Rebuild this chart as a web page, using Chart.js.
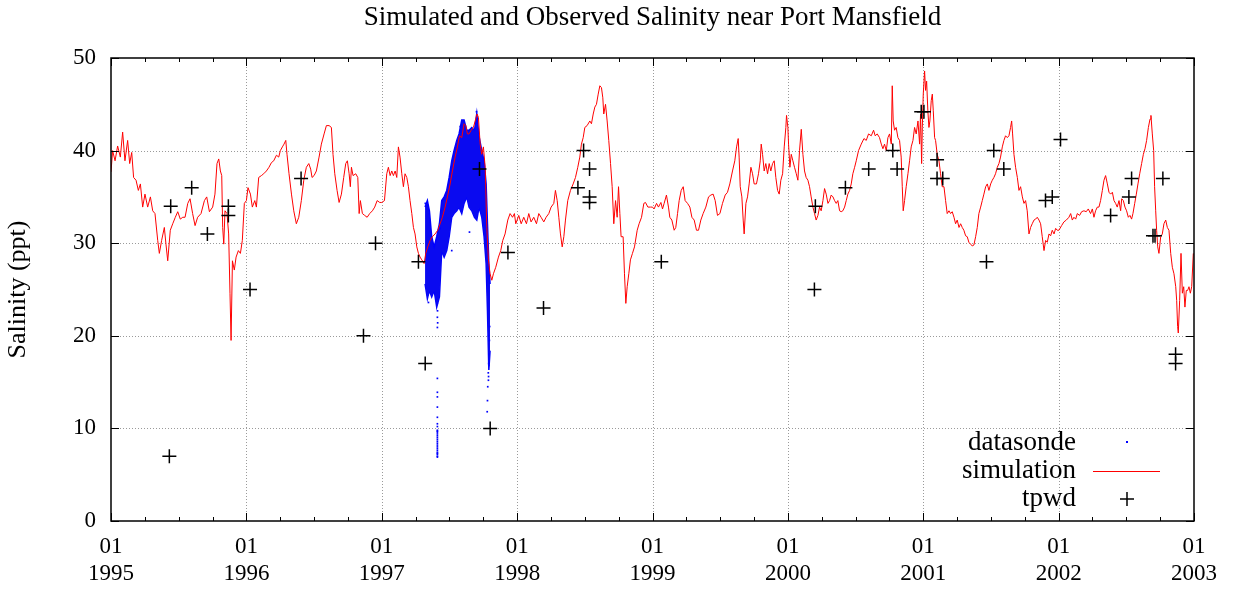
<!DOCTYPE html>
<html>
<head>
<meta charset="utf-8">
<script src="https://cdn.jsdelivr.net/npm/chart.js@4.4.1/dist/chart.umd.min.js"></script>
<style>
html,body{margin:0;padding:0;background:#fff;}
canvas{display:block;}
</style>
</head>
<body>
<canvas id="c" width="1233" height="594"></canvas>
<script>
// ---------- DATA ----------
const chartTitle = 'Simulated and Observed Salinity near Port Mansfield';
const yAxisTitle = 'Salinity (ppt)';
const xTickValues = [1995, 1996, 1997, 1998, 1999, 2000, 2001, 2002, 2003];
const xTickMonth = ['01', '01', '01', '01', '01', '01', '01', '01', '01'];
const xTickYear = ['1995', '1996', '1997', '1998', '1999', '2000', '2001', '2002', '2003'];
const yTickValues = [0, 10, 20, 30, 40, 50];
const yTickLabels = ['0', '10', '20', '30', '40', '50'];
const legendLabels = ['datasonde', 'simulation', 'tpwd'];

// simulation (decimal year / salinity)
const sim1995T = [1995.000,1995.012,1995.030,1995.049,1995.069,1995.086,1995.103,1995.123,1995.138,1995.153,1995.167,1995.185,1995.202,1995.217,1995.234,1995.251,1995.271,1995.291,1995.308,1995.325,1995.345,1995.357,1995.374,1995.394,1995.406,1995.419,1995.438,1995.456,1995.475,1995.493,1995.512,1995.530,1995.547,1995.567,1995.584,1995.603,1995.621,1995.640,1995.665,1995.690,1995.707,1995.727,1995.751,1995.768,1995.783,1995.796,1995.808,1995.818,1995.825,1995.833,1995.842,1995.857,1995.869,1995.879,1995.887,1995.897,1995.911,1995.924,1995.941,1995.956,1995.970,1995.985];
const sim1995V = [37.7,40.0,38.9,40.5,39.3,42.0,38.9,41.1,38.6,39.8,37.1,36.8,35.7,36.4,33.9,35.3,33.9,35.0,33.5,33.2,30.3,28.9,30.3,31.7,29.9,28.1,31.4,32.1,32.8,33.4,32.6,32.8,32.8,34.3,34.8,33.2,31.9,32.8,33.2,34.6,35.0,33.4,33.9,35.3,38.6,39.1,37.8,37.3,31.7,29.9,33.5,33.2,31.0,24.6,19.5,28.1,27.1,28.5,29.2,28.9,30.3,34.3];
const sim1996T = [1996.000,1996.012,1996.030,1996.044,1996.062,1996.074,1996.091,1996.111,1996.128,1996.148,1996.167,1996.185,1996.202,1996.222,1996.239,1996.251,1996.266,1996.278,1996.291,1996.300,1996.315,1996.333,1996.350,1996.369,1996.387,1996.406,1996.424,1996.443,1996.461,1996.475,1996.485,1996.500,1996.517,1996.537,1996.554,1996.574,1996.591,1996.611,1996.628,1996.640,1996.653,1996.670,1996.685,1996.702,1996.719,1996.734,1996.746,1996.759,1996.768,1996.776,1996.788,1996.808,1996.823,1996.833,1996.842,1996.857,1996.874,1996.892,1996.911,1996.931,1996.948,1996.966,1996.985];
const sim1996V = [34.6,36.0,35.3,33.9,34.6,33.9,37.1,37.3,37.5,37.8,38.2,38.7,38.9,39.5,39.3,40.0,40.4,40.7,41.1,39.6,37.5,35.3,33.5,32.1,32.8,34.6,36.8,38.2,38.6,38.0,37.1,37.3,37.8,39.3,40.7,41.8,42.7,42.7,42.5,39.6,37.5,35.7,34.4,35.3,37.1,38.6,38.9,37.5,36.1,38.2,37.3,37.5,37.1,33.2,34.6,33.2,33.0,32.8,33.2,33.5,33.9,34.6,34.4];
const sim1997T = [1997.000,1997.020,1997.037,1997.049,1997.062,1997.074,1997.086,1997.099,1997.111,1997.123,1997.135,1997.148,1997.160,1997.172,1997.185,1997.197,1997.209,1997.222,1997.234,1997.246,1997.259,1997.271,1997.283,1997.296,1997.313,1997.325,1997.340,1997.357,1997.374,1997.394,1997.414,1997.431,1997.448,1997.468,1997.485,1997.505,1997.522,1997.542,1997.559,1997.574,1997.591,1997.608,1997.621,1997.633,1997.645,1997.660,1997.677,1997.690,1997.704,1997.714,1997.727,1997.739,1997.751,1997.764,1997.776,1997.788,1997.800,1997.813,1997.825,1997.842,1997.862,1997.879,1997.894,1997.911,1997.931,1997.948,1997.966,1997.980,1997.990];
const sim1997V = [34.4,34.6,37.5,38.2,37.3,37.8,37.3,37.8,37.1,40.4,39.3,37.5,36.1,37.5,37.1,36.1,34.6,33.2,31.7,31.0,29.6,28.9,28.5,28.2,27.8,28.9,29.6,30.3,30.7,31.0,31.4,32.1,32.8,33.9,35.0,36.4,37.8,39.3,40.4,41.6,41.4,42.9,42.7,41.8,41.8,42.2,42.5,43.2,43.95,43.6,40.7,39.6,40.4,38.2,31.7,28.2,26.7,26.0,26.7,27.4,28.5,29.2,30.3,31.0,32.5,33.2,32.8,33.2,32.1];
const sim1998T = [1998.000,1998.012,1998.030,1998.049,1998.069,1998.086,1998.103,1998.123,1998.143,1998.160,1998.177,1998.197,1998.214,1998.234,1998.251,1998.271,1998.283,1998.296,1998.308,1998.320,1998.333,1998.345,1998.357,1998.374,1998.394,1998.414,1998.431,1998.448,1998.463,1998.475,1998.488,1998.500,1998.517,1998.537,1998.549,1998.562,1998.574,1998.586,1998.599,1998.611,1998.623,1998.633,1998.640,1998.653,1998.665,1998.677,1998.690,1998.702,1998.714,1998.727,1998.739,1998.749,1998.759,1998.768,1998.783,1998.793,1998.803,1998.813,1998.825,1998.837,1998.852,1998.867,1998.887,1998.901,1998.919,1998.936,1998.948,1998.966,1998.985];
const sim1998V = [32.5,33.0,32.1,32.8,32.1,33.2,32.3,32.8,32.1,33.2,32.8,32.3,32.8,33.2,33.9,34.3,35.7,34.6,32.8,31.0,29.6,30.7,32.5,34.6,35.7,36.4,37.1,38.2,39.3,40.7,41.4,42.5,42.7,43.2,42.9,43.95,44.7,45.0,46.1,47.0,46.8,45.7,43.95,45.0,43.2,41.1,38.6,36.1,32.1,34.6,32.8,36.1,33.2,30.7,30.7,26.7,23.5,25.3,26.7,28.2,28.9,29.6,31.4,32.1,32.8,34.3,34.4,33.9,33.9];
const sim1999T = [1999.000,1999.012,1999.030,1999.044,1999.062,1999.074,1999.086,1999.103,1999.118,1999.128,1999.143,1999.160,1999.172,1999.185,1999.197,1999.212,1999.227,1999.241,1999.259,1999.276,1999.291,1999.308,1999.325,1999.340,1999.357,1999.374,1999.394,1999.414,1999.431,1999.448,1999.463,1999.480,1999.498,1999.517,1999.537,1999.554,1999.571,1999.591,1999.608,1999.621,1999.633,1999.640,1999.648,1999.660,1999.670,1999.677,1999.690,1999.702,1999.714,1999.727,1999.739,1999.751,1999.768,1999.783,1999.796,1999.803,1999.813,1999.825,1999.837,1999.850,1999.862,1999.874,1999.887,1999.899,1999.911,1999.924,1999.936,1999.948,1999.961,1999.973,1999.985,1999.990];
const sim1999V = [33.9,33.7,34.3,33.9,34.4,33.7,34.3,35.2,33.9,32.8,32.5,31.4,31.7,33.2,34.6,35.7,36.1,34.6,34.3,33.9,32.8,32.5,31.4,31.4,32.5,33.2,33.9,35.0,35.2,35.3,34.6,33.0,33.2,34.3,35.2,35.5,36.4,37.8,38.9,40.4,41.3,39.3,36.1,35.0,32.5,31.0,34.3,35.0,36.4,38.2,37.5,36.4,36.4,37.5,38.9,40.7,39.6,37.8,38.6,37.5,38.6,37.8,38.6,38.9,37.1,35.7,35.3,36.8,37.5,40.4,42.5,43.8];
const sim2000T = [2000.000,2000.005,2000.015,2000.025,2000.037,2000.049,2000.062,2000.074,2000.086,2000.099,2000.111,2000.123,2000.135,2000.148,2000.160,2000.172,2000.185,2000.197,2000.209,2000.222,2000.234,2000.246,2000.259,2000.271,2000.283,2000.296,2000.308,2000.320,2000.333,2000.345,2000.357,2000.369,2000.382,2000.394,2000.406,2000.419,2000.431,2000.443,2000.456,2000.468,2000.480,2000.493,2000.505,2000.522,2000.542,2000.562,2000.579,2000.596,2000.616,2000.633,2000.645,2000.660,2000.677,2000.690,2000.702,2000.714,2000.727,2000.739,2000.751,2000.764,2000.771,2000.778,2000.788,2000.800,2000.813,2000.825,2000.837,2000.845,2000.852,2000.862,2000.874,2000.887,2000.899,2000.911,2000.924,2000.936,2000.948,2000.961,2000.973,2000.980,2000.988,2000.993];
const sim2000V = [42.5,40.7,38.2,39.6,38.9,38.2,37.5,36.8,40.0,42.3,39.6,37.8,37.1,36.8,36.1,35.0,33.9,33.2,32.5,33.0,33.9,33.5,34.6,35.9,35.3,34.3,34.6,35.2,35.0,34.6,34.3,34.6,33.5,33.4,33.5,33.9,34.6,35.3,35.7,36.4,37.5,38.2,38.9,40.0,40.7,41.3,41.1,41.8,41.6,42.2,41.6,41.8,41.4,40.7,40.2,40.7,40.0,41.4,41.8,40.7,47.0,43.2,42.2,42.5,41.4,41.1,39.3,36.1,33.5,34.6,36.1,37.5,38.9,40.4,41.1,42.5,41.8,43.2,40.7,43.95,38.6,42.5];
const sim2001T = [2001.000,2001.010,2001.017,2001.025,2001.034,2001.042,2001.049,2001.059,2001.067,2001.074,2001.084,2001.091,2001.103,2001.116,2001.128,2001.140,2001.153,2001.165,2001.177,2001.190,2001.202,2001.214,2001.227,2001.239,2001.251,2001.264,2001.276,2001.288,2001.300,2001.313,2001.325,2001.337,2001.350,2001.362,2001.374,2001.387,2001.399,2001.411,2001.424,2001.436,2001.448,2001.461,2001.473,2001.485,2001.498,2001.510,2001.522,2001.534,2001.547,2001.559,2001.571,2001.584,2001.596,2001.608,2001.621,2001.633,2001.645,2001.653,2001.660,2001.670,2001.682,2001.695,2001.707,2001.719,2001.732,2001.744,2001.756,2001.768,2001.781,2001.793,2001.805,2001.818,2001.830,2001.842,2001.855,2001.867,2001.879,2001.892,2001.904,2001.916,2001.929,2001.941,2001.953,2001.966,2001.978,2001.990];
const sim2001V = [46.1,48.6,46.5,47.5,44.3,42.5,43.2,45.4,46.1,44.3,41.4,41.1,39.6,38.9,37.5,36.1,36.1,34.6,33.2,33.5,33.2,33.4,32.8,32.1,32.5,31.7,32.1,31.7,31.4,30.8,30.7,30.1,29.9,29.7,29.8,30.7,31.7,33.2,33.9,34.6,35.3,36.1,36.4,35.7,36.4,36.8,37.1,37.5,38.2,38.6,39.3,40.4,41.1,41.6,41.4,41.6,42.5,43.2,41.8,39.6,38.2,37.1,35.7,36.1,35.0,34.3,34.6,33.5,31.0,31.7,32.1,32.5,32.6,32.8,32.5,32.1,30.7,29.2,30.3,30.1,31.0,30.8,31.4,31.0,31.6,31.4];
const sim2002T = [2002.002,2002.022,2002.039,2002.057,2002.076,2002.089,2002.101,2002.113,2002.126,2002.138,2002.155,2002.170,2002.187,2002.204,2002.219,2002.236,2002.249,2002.261,2002.273,2002.286,2002.298,2002.310,2002.323,2002.335,2002.347,2002.360,2002.372,2002.384,2002.397,2002.409,2002.421,2002.433,2002.446,2002.458,2002.466,2002.478,2002.490,2002.502,2002.515,2002.527,2002.539,2002.549,2002.562,2002.574,2002.586,2002.599,2002.613,2002.626,2002.638,2002.650,2002.663,2002.675,2002.682,2002.692,2002.702,2002.709,2002.717,2002.724,2002.732,2002.741,2002.754,2002.766,2002.778,2002.791,2002.803,2002.815,2002.828,2002.840,2002.852,2002.865,2002.872,2002.879,2002.884,2002.894,2002.904,2002.914,2002.924,2002.933,2002.943,2002.953,2002.963,2002.973,2002.983,2002.995];
const sim2002V = [31.4,31.9,32.3,32.5,32.8,33.2,32.5,32.8,32.6,33.2,33.0,33.4,33.5,33.4,33.7,33.2,33.7,32.8,33.5,33.9,33.9,34.6,35.7,36.8,37.3,36.4,35.5,35.3,35.5,34.6,34.3,33.9,34.6,33.5,34.8,34.6,33.9,33.5,32.8,33.0,32.6,33.2,34.3,35.3,36.4,37.5,38.6,39.6,40.2,41.1,42.5,43.4,43.8,41.8,40.0,36.1,33.5,31.4,29.6,28.9,30.7,31.0,32.1,32.5,31.7,31.4,28.9,27.4,26.7,25.3,23.8,21.0,20.3,23.8,28.9,24.6,25.3,23.1,24.9,24.9,25.3,24.6,25.3,28.9];

// datasonde: dense cloud envelope (upper / lower edge) and separate dots
const dsT    = [1997.320,1997.337,1997.352,1997.369,1997.387,1997.406,1997.426,1997.443,1997.461,1997.480,1997.498,1997.517,1997.534,1997.554,1997.571,1997.591,1997.608,1997.628,1997.645,1997.665,1997.685,1997.702,1997.719,1997.739,1997.756,1997.771,1997.781,1997.791,1997.800];
const dsHigh = [33.9,34.6,33.5,30.7,29.6,30.7,32.1,34.6,35.0,35.7,37.1,38.9,40.0,41.1,41.8,43.3,43.3,42.2,42.2,42.5,42.2,44.0,41.5,40.0,38.9,36.4,32.1,27.8,25.6];
const dsLow  = [25.6,24.0,24.9,24.2,24.9,23.1,24.2,29.2,28.5,29.2,30.7,32.8,33.2,33.5,33.9,33.2,34.3,35.0,33.9,33.5,32.8,32.5,33.9,32.8,30.7,27.8,22.7,16.3,18.4];
const dsDotT = [1997.410,1997.412,1997.411,1997.413,1997.411,1997.411,1997.411,1997.411,1997.411,1997.411,1997.411,1997.411,1997.411,1997.411,1997.411,1997.411,1997.411,1997.411,1997.411,1997.411,1997.411,1997.411,1997.411,1997.411,1997.411,1997.411,1997.411,1997.411,1997.411,1997.411,1997.790,1997.792,1997.790,1997.787,1997.789,1997.791,1997.788,1997.783,1997.781,1997.779,1997.795,1997.797,1997.648,1997.517,1997.322,1997.700,1997.580,1997.345,1997.430];
const dsDotV = [23.5,22.7,22.0,21.4,20.9,15.4,13.9,13.4,12.3,11.2,10.5,9.8,9.6,9.4,9.2,9.0,8.8,8.6,8.4,8.2,8.0,7.8,7.6,7.4,7.2,7.0,6.9,10.2,9.7,7.3,20.0,18.0,17.0,16.0,15.6,16.8,15.2,14.5,13.0,11.8,19.5,21.0,31.2,29.2,34.3,44.2,42.6,23.6,31.6];

// tpwd samples
const tpwdT = [1995.431,1995.441,1995.596,1995.712,1995.867,1995.867,1996.027,1996.404,1996.865,1996.954,1997.271,1997.321,1997.722,1997.801,1997.932,1998.195,1998.449,1998.491,1998.535,1998.535,1998.535,1999.065,2000.196,2000.203,2000.425,2000.597,2000.775,2000.807,2000.985,2001.005,2001.102,2001.102,2001.144,2001.467,2001.521,2001.595,2001.903,2001.953,2002.014,2002.384,2002.519,2002.539,2002.697,2002.712,2002.770,2002.864,2002.864];
const tpwdV = [7,34,36,31,34,33,25,37,20,30,28,17,38,10,29,23,36,40,38,35,34.4,28,25,34,36,38,40,38,44.2,44.2,39,37,37,28,40,38,34.6,35,41.2,33,35,37,30.8,30.8,37,18,17];

// ---------- BUILD ----------
function pairs(t, v) {
  const n = Math.min(t.length, v.length), out = [];
  for (let i = 0; i < n; i++) out.push({x: t[i], y: v[i]});
  return out;
}
const simData = [].concat(
  pairs(sim1995T, sim1995V), pairs(sim1996T, sim1996V), pairs(sim1997T, sim1997V),
  pairs(sim1998T, sim1998V), pairs(sim1999T, sim1999V), pairs(sim2000T, sim2000V),
  pairs(sim2001T, sim2001V), pairs(sim2002T, sim2002V));

const FONT = "'Liberation Serif', 'Times New Roman', serif";
const TICK_SIZE = 23;
const TEXT_SIZE = 27;

const framePlugin = {
  id: 'gnuFrame',
  beforeDatasetsDraw(chart) {
    const {ctx, chartArea: a, scales: {x, y}} = chart;
    ctx.save();
    ctx.strokeStyle = '#9a9a9a';
    ctx.lineWidth = 1;
    ctx.setLineDash([1, 2]);
    yTickValues.forEach(v => {
      if (v === yTickValues[0] || v === yTickValues[yTickValues.length - 1]) return;
      const py = Math.round(y.getPixelForValue(v)) + 0.5;
      ctx.beginPath(); ctx.moveTo(a.left, py); ctx.lineTo(a.right, py); ctx.stroke();
    });
    xTickValues.forEach(v => {
      if (v === xTickValues[0] || v === xTickValues[xTickValues.length - 1]) return;
      const px = Math.round(x.getPixelForValue(v)) + 0.5;
      ctx.beginPath(); ctx.moveTo(px, a.top); ctx.lineTo(px, a.bottom); ctx.stroke();
    });
    ctx.restore();
  },
  afterDatasetsDraw(chart) {
    const {ctx, chartArea: a, scales: {x, y}} = chart;
    ctx.save();
    ctx.setLineDash([]);
    ctx.strokeStyle = '#000';
    ctx.lineWidth = 1;
    // ticks (inward, mirrored)
    ctx.beginPath();
    yTickValues.forEach(v => {
      const py = Math.round(y.getPixelForValue(v)) + 0.5;
      ctx.moveTo(a.left, py); ctx.lineTo(a.left + 8, py);
      ctx.moveTo(a.right, py); ctx.lineTo(a.right - 8, py);
    });
    for (let i = 0; i < xTickValues.length; i++) {
      const v = xTickValues[i];
      const px = Math.round(x.getPixelForValue(v)) + 0.5;
      ctx.moveTo(px, a.bottom); ctx.lineTo(px, a.bottom - 8);
      ctx.moveTo(px, a.top); ctx.lineTo(px, a.top + 8);
      if (i < xTickValues.length - 1) {
        for (let q = 1; q < 4; q++) {
          const mx = Math.round(x.getPixelForValue(v + q * 0.25)) + 0.5;
          ctx.moveTo(mx, a.bottom); ctx.lineTo(mx, a.bottom - 4);
          ctx.moveTo(mx, a.top); ctx.lineTo(mx, a.top + 4);
        }
      }
    }
    ctx.stroke();
    // border
    ctx.lineWidth = 1.5;
    ctx.strokeRect(a.left, a.top, a.right - a.left, a.bottom - a.top);
    // title, centred over the plot area
    ctx.fillStyle = '#000';
    ctx.font = TEXT_SIZE + 'px ' + FONT;
    ctx.textAlign = 'center';
    ctx.textBaseline = 'middle';
    ctx.fillText(chartTitle, (a.left + a.right) / 2, 18);
    // legend (gnuplot style: right-aligned text, sample to the right)
    const textRight = a.right - 118, sampleX = a.right - 67, rowY = [a.bottom - 78, a.bottom - 50, a.bottom - 22];
    ctx.textAlign = 'right';
    legendLabels.forEach((t, i) => ctx.fillText(t, textRight, rowY[i]));
    ctx.fillStyle = '#0000ff';
    ctx.fillRect(sampleX - 1, rowY[0] - 2, 2, 2);
    ctx.strokeStyle = '#ff0000';
    ctx.lineWidth = 1;
    ctx.beginPath(); ctx.moveTo(sampleX - 34, rowY[1] + 0.5); ctx.lineTo(sampleX + 33, rowY[1] + 0.5); ctx.stroke();
    ctx.strokeStyle = '#000';
    ctx.lineWidth = 1.5;
    ctx.beginPath();
    ctx.moveTo(sampleX - 7, rowY[2]); ctx.lineTo(sampleX + 7, rowY[2]);
    ctx.moveTo(sampleX, rowY[2] - 7); ctx.lineTo(sampleX, rowY[2] + 7);
    ctx.stroke();
    ctx.restore();
  }
};

new Chart(document.getElementById('c'), {
  type: 'scatter',
  data: {
    datasets: [
      {
        label: legendLabels[2],
        data: pairs(tpwdT, tpwdV),
        pointStyle: 'cross',
        pointRadius: 7,
        borderColor: '#000',
        borderWidth: 1.5,
        showLine: false,
        order: 0
      },
      {
        label: legendLabels[1],
        data: simData,
        showLine: true,
        borderColor: '#ff0000',
        borderWidth: 1,
        pointRadius: 0,
        tension: 0,
        order: 1
      },
      {
        label: legendLabels[0],
        data: pairs(dsDotT, dsDotV),
        pointStyle: 'rect',
        pointRadius: 1.2,
        backgroundColor: '#0000ff',
        borderColor: '#0000ff',
        borderWidth: 0,
        showLine: false,
        order: 2
      },
      {
        label: 'datasonde-high',
        data: pairs(dsT, dsHigh),
        showLine: true,
        borderColor: '#0000ff',
        borderWidth: 1.5,
        backgroundColor: '#0a0af0',
        pointRadius: 0,
        fill: '+1',
        order: 3
      },
      {
        label: 'datasonde-low',
        data: pairs(dsT, dsLow),
        showLine: true,
        borderColor: '#0000ff',
        borderWidth: 1.5,
        pointRadius: 0,
        fill: false,
        order: 4
      }
    ]
  },
  options: {
    responsive: false,
    animation: false,
    devicePixelRatio: 1,
    events: [],
    layout: {padding: {left: 0, right: 39, top: 58, bottom: 0}},
    plugins: {
      legend: {display: false},
      tooltip: {enabled: false},
      title: {display: false}
    },
    scales: {
      x: {
        type: 'linear',
        min: xTickValues[0],
        max: xTickValues[xTickValues.length - 1],
        afterFit: s => { s.height = 73; },
        afterBuildTicks: s => { s.ticks = xTickValues.map(v => ({value: v})); },
        grid: {display: false, drawTicks: false},
        border: {display: false},
        ticks: {
          color: '#000',
          padding: 12,
          maxRotation: 0,
          autoSkip: false,
          font: {family: FONT, size: TICK_SIZE, lineHeight: 1.2},
          callback: v => {
            const i = xTickValues.indexOf(v);
            return i < 0 ? '' : [xTickMonth[i], xTickYear[i]];
          }
        }
      },
      y: {
        type: 'linear',
        min: yTickValues[0],
        max: yTickValues[yTickValues.length - 1],
        afterFit: s => { s.width = 111; },
        afterBuildTicks: s => { s.ticks = yTickValues.map(v => ({value: v})); },
        grid: {display: false, drawTicks: false},
        border: {display: false},
        ticks: {
          color: '#000',
          padding: 15,
          font: {family: FONT, size: TICK_SIZE},
          callback: v => {
            const i = yTickValues.indexOf(v);
            return i < 0 ? '' : yTickLabels[i];
          }
        },
        title: {
          display: true,
          text: yAxisTitle,
          color: '#000',
          font: {family: FONT, size: 26},
          padding: {top: 3, bottom: 0}
        }
      }
    }
  },
  plugins: [framePlugin]
});
</script>
</body>
</html>
